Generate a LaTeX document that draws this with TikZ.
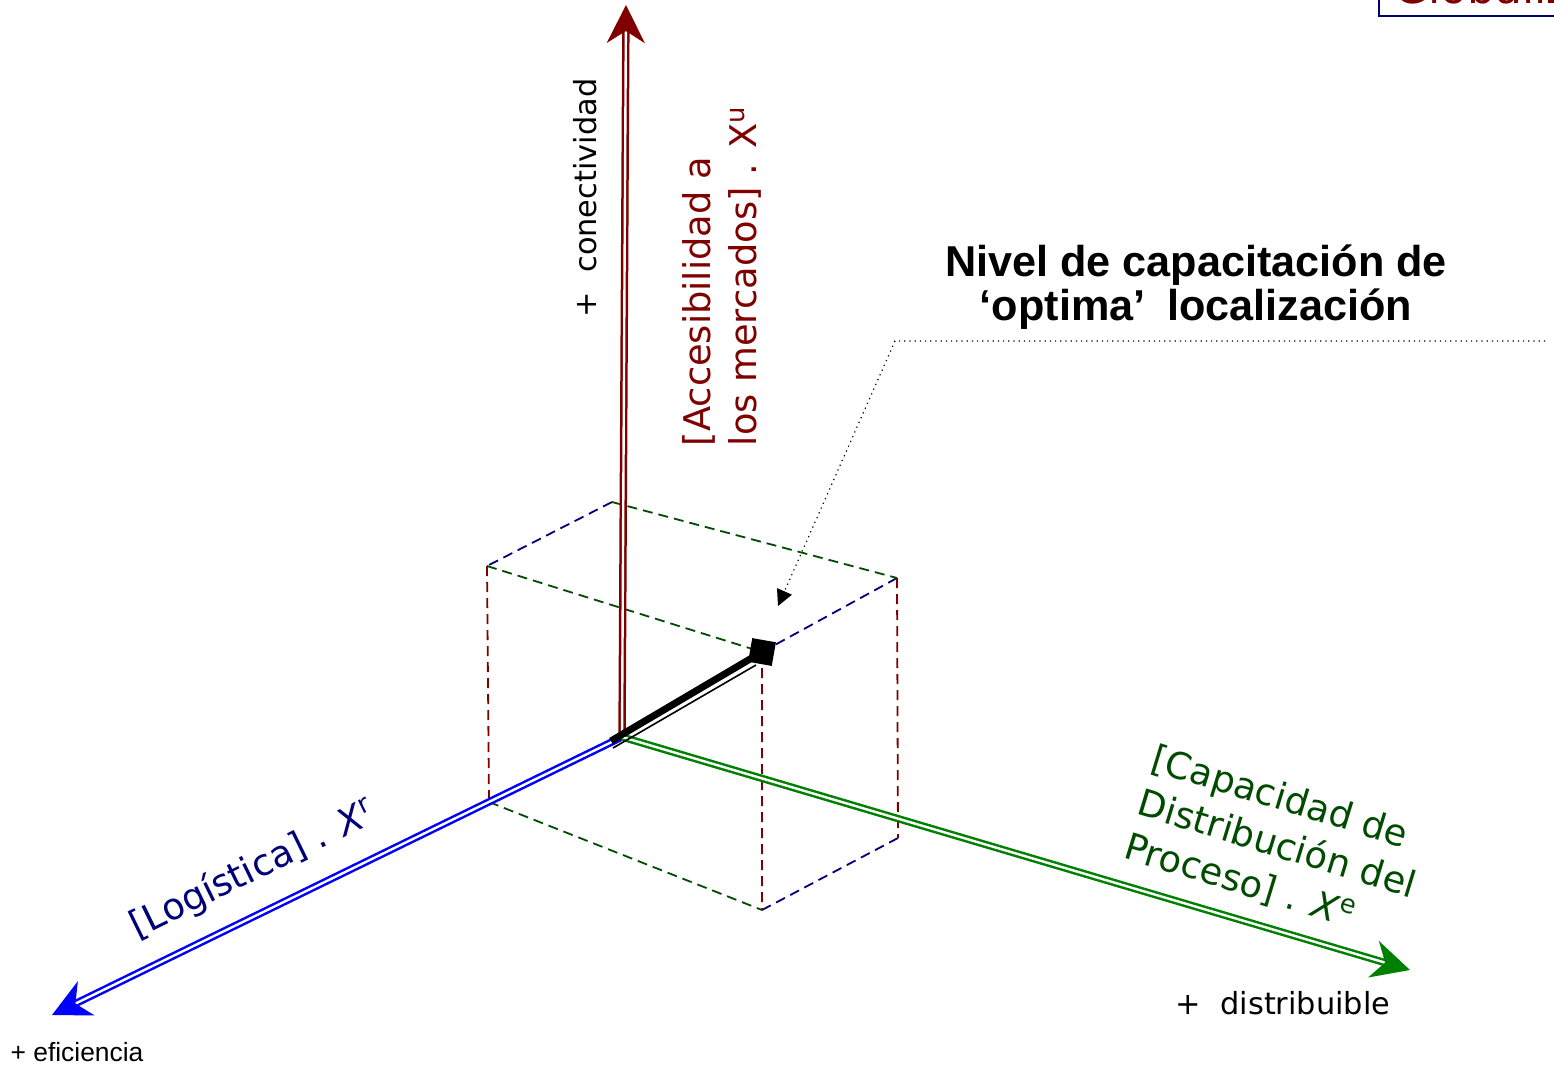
\documentclass[tikz,border=0pt]{standalone}
\usepackage{fontspec}
\setmainfont{DejaVu Sans}
\newfontfamily\arialfont{Liberation Sans}
\usetikzlibrary{arrows.meta,calc}
\definecolor{darkred}{RGB}{128,0,0}
\definecolor{navy}{RGB}{0,0,120}
\definecolor{darkgreen}{RGB}{0,75,0}
\definecolor{axisgreen}{RGB}{0,128,0}
\tikzset{
  axisline/.style={line width=1.25pt, double=white, double distance=1.2pt},
  axistip/.style={line width=1pt, -{Stealth[length=19pt,width=19pt,inset=6pt]}},
  boxedge/.style={line width=0.9pt, dash pattern=on 5pt off 3pt},
  axislabel/.style={font=\fontsize{18.4}{23}\selectfont, align=left, inner sep=0pt},
  plainlabel/.style={font=\fontsize{15.2}{18}\selectfont, inner sep=0pt}
}
\begin{document}
\begin{tikzpicture}[x=0.5pt,y=-0.5pt]
    \useasboundingbox (0,0) rectangle (1554,1067);
    % corner title, cut by the page
    \node[draw=navy, line width=1pt, text=darkred, anchor=south west,
      inner xsep=7.5pt, inner ysep=6pt, font=\fontsize{22}{26}\selectfont]
      (globo) at (1378,17) {Globalización};
    % origin and axis ends
    \coordinate (O) at (622,737);
    \coordinate (uTip) at (626,5);
    \coordinate (lTip) at (52,1015);
    \coordinate (rTip) at (1410,970);
    \coordinate (uEnd) at ($(uTip)!13pt!(O)$);
    \coordinate (lEnd) at ($(lTip)!13pt!(O)$);
    \coordinate (rEnd) at ($(rTip)!13pt!(O)$);
    % box corners
    \coordinate (bTop) at (612,502);
    \coordinate (lTop) at (487,566);
    \coordinate (rTop) at (897,578);
    \coordinate (fTop) at (762,652);
    \coordinate (lBot) at (489,802);
    \coordinate (rBot) at (898,838);
    \coordinate (fBot) at (762,910);
    \draw[boxedge, navy] (bTop) -- (lTop) (rTop) -- (fTop) (rBot) -- (fBot);
    \draw[boxedge, darkgreen] (bTop) -- (rTop) (lTop) -- (fTop) (lBot) -- (fBot);
    \draw[boxedge, darkred] (lTop) -- (lBot) (rTop) -- (rBot) (fTop) -- (fBot);
    % axes
    \draw[axisline, darkred] (O) -- (uEnd);
    \draw[axistip, darkred] (uEnd) -- (uTip);
    \draw[axisline, blue] (O) -- (lEnd);
    \draw[axistip, blue] (lEnd) -- (lTip);
    \draw[axisline, axisgreen] (O) -- (rEnd);
    \draw[axistip, axisgreen] (rEnd) -- (rTip);
    % location vector
    \coordinate (vStart) at (611,741);
    \coordinate (tStart) at (613,748);
    \coordinate (tEnd) at (756,665);
    \draw[line width=3.5pt] (vStart) -- (fTop);
    \draw[line width=0.8pt] (tStart) -- (tEnd);
    \node[fill=black, rotate=-10, minimum size=12pt, inner sep=0pt] (optimo) at (fTop) {};
    % callout
    \node[font=\arialfont\bfseries\fontsize{21.6}{22}\selectfont, align=center, inner sep=0pt]
      (nivel) at (1196,287) {Nivel de capacitación de\\‘optima’\enspace localización};
    \coordinate (cRight) at (1545,341);
    \coordinate (cKnee) at (895,341);
    \coordinate (cTip) at (778,606);
    \draw[dotted, line width=0.6pt, -{Triangle[length=8pt,width=8pt]}] (cRight) -- (cKnee) -- (cTip);
    % labels
    \node[plainlabel, rotate=90] (conect) at (585,198) {+~~conectividad};
    \node[axislabel, rotate=90, text=darkred] (acceso) at (722,276)
      {[Accesibilidad a\\los mercados] . X\textsuperscript{u}};
    \node[axislabel, rotate=26, text=navy] (logist) at (253,870)
      {[Logística] . \textit{X}\textsuperscript{r}};
    \node[axislabel, rotate=-17, text=darkgreen] (capac) at (1277,845)
      {[Capacidad de\\Distribución del\\Proceso] . \textit{X}\textsuperscript{e}};
    \node[plainlabel] (distrib) at (1283,1003) {+~~distribuible};
    \node[font=\arialfont\fontsize{13.2}{16}\selectfont, inner sep=0pt] (efic) at (77,1052) {+ eficiencia};
\end{tikzpicture}
\end{document}
